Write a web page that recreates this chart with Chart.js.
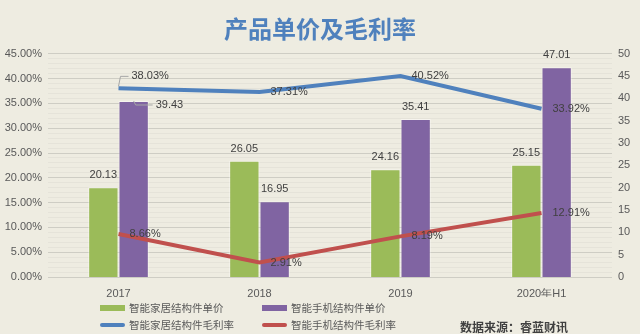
<!DOCTYPE html>
<html>
<head>
<meta charset="utf-8">
<script src="https://cdn.jsdelivr.net/npm/chart.js@4"></script>
<style>
  html, body { margin: 0; padding: 0; background: #eeece1; }
  #wrap { position: relative; width: 640px; height: 334px; }
  #legend {
    position: absolute; left: 100px; top: 299px;
    display: grid; grid-template-columns: 162px 162px; grid-auto-rows: 17px;
    font: 10.5px "Noto Sans CJK SC", sans-serif; color: #595959;
  }
  #legend .item { display: flex; align-items: center; }
  #legend .swatch { width: 25px; margin-right: 4px; }
  #source {
    position: absolute; left: 460px; top: 318px; line-height: 18px;
    font: bold 12px "Noto Sans CJK SC", sans-serif; color: #404040;
  }
</style>
</head>
<body>
<div id="wrap">
  <canvas id="myChart" width="640" height="334"></canvas>
  <div id="legend"></div>
  <div id="source">数据来源：睿蓝财讯</div>
</div>
<script>
const years = ['2017', '2018', '2019', '2020年H1'];
const homePrice = [20.13, 26.05, 24.16, 25.15];   // 智能家居结构件单价
const phonePrice = [39.43, 16.95, 35.41, 47.01];  // 智能手机结构件单价
const homeMargin = [38.03, 37.31, 40.52, 33.92];  // 智能家居结构件毛利率 (%)
const phoneMargin = [8.66, 2.91, 8.19, 12.91];    // 智能手机结构件毛利率 (%)
const marginAxis = [0, 45, 5];  // min, max, step (%)
const priceAxis = [0, 50, 5];

const green = '#9bbb59', purple = '#8064a2', blue = '#4f81bd', red = '#c0504d';

// labels that sit off their mark, with a leader line: dataset -> index -> [dx, dy]
const callouts = { 1: { 0: [22, 4] }, 2: { 0: [13, -12] } };

const valueLabels = {
  id: 'valueLabels',
  afterDatasetsDraw(chart) {
    const ctx = chart.ctx;
    ctx.save();
    ctx.font = '11px "Liberation Sans", sans-serif';
    ctx.fillStyle = '#404040';
    ctx.textBaseline = 'middle';
    chart.data.datasets.forEach((ds, i) => {
      const meta = chart.getDatasetMeta(i);
      meta.data.forEach((el, j) => {
        const isLine = ds.type === 'line';
        const text = ds.data[j].toFixed(2) + (isLine ? '%' : '');
        const c = callouts[i] && callouts[i][j];
        if (c) {
          ctx.strokeStyle = '#a6a6a6';
          ctx.lineWidth = 1;
          ctx.beginPath();
          ctx.moveTo(el.x, el.y - (isLine ? 2 : 0));
          ctx.lineTo(el.x + 2, el.y + c[1]);
          ctx.lineTo(el.x + c[0] - 3, el.y + c[1]);
          ctx.stroke();
          ctx.textAlign = 'left';
          ctx.fillText(text, el.x + c[0], el.y + c[1]);
        } else if (isLine) {
          ctx.textAlign = 'left';
          ctx.fillText(text, el.x + 11, el.y);
        } else {
          ctx.textAlign = 'center';
          ctx.fillText(text, el.x, el.y - 12);
        }
      });
    });
    ctx.restore();
  }
};

const tickFont = { family: '"Liberation Sans", sans-serif', size: 11 };

const chart = new Chart(document.getElementById('myChart'), {
  data: {
    labels: years,
    datasets: [
      { type: 'bar', label: '智能家居结构件单价', data: homePrice, yAxisID: 'yPrice',
        backgroundColor: green, borderColor: 'rgba(255,255,255,0.45)', borderWidth: 1, order: 2 },
      { type: 'bar', label: '智能手机结构件单价', data: phonePrice, yAxisID: 'yPrice',
        backgroundColor: purple, borderColor: 'rgba(255,255,255,0.45)', borderWidth: 1, order: 2 },
      { type: 'line', label: '智能家居结构件毛利率', data: homeMargin, yAxisID: 'yMargin',
        borderColor: blue, backgroundColor: blue, borderWidth: 4, pointRadius: 0, tension: 0, order: 1 },
      { type: 'line', label: '智能手机结构件毛利率', data: phoneMargin, yAxisID: 'yMargin',
        borderColor: red, backgroundColor: red, borderWidth: 4, pointRadius: 0, tension: 0, order: 1 }
    ]
  },
  options: {
    responsive: false,
    animation: false,
    layout: { padding: { left: 0, right: 0, top: 0, bottom: 37 } },
    datasets: { bar: { categoryPercentage: 0.43, barPercentage: 1.0 } },
    plugins: {
      legend: { display: false },
      tooltip: { enabled: false },
      title: {
        display: true,
        text: '产品单价及毛利率',
        color: blue,
        font: { family: '"Noto Sans CJK SC", sans-serif', size: 24, weight: 'bold' },
        padding: { top: 14, bottom: 11 }
      }
    },
    scales: {
      x: {
        grid: { display: false },
        border: { display: false },
        ticks: { color: '#595959', font: tickFont, padding: 2, maxRotation: 0 },
        afterFit: s => { s.height = 20; }
      },
      yMargin: {
        position: 'left',
        min: marginAxis[0], max: marginAxis[1],
        ticks: { stepSize: marginAxis[2], color: '#595959', font: tickFont, padding: 6,
                 callback: v => v.toFixed(2) + '%' },
        grid: { color: '#d6d5cc', drawTicks: false },
        border: { display: false },
        afterFit: s => { s.width = 48; }
      },
      // faint 1% rules between the major gridlines
      yMinor: {
        position: 'left',
        min: marginAxis[0], max: marginAxis[1], z: -1,
        ticks: { display: false, stepSize: 1, maxTicksLimit: 60 },
        grid: { color: 'rgba(0,0,0,0.035)', drawTicks: false },
        border: { display: false },
        afterFit: s => { s.width = 0; }
      },
      yPrice: {
        position: 'right',
        min: priceAxis[0], max: priceAxis[1],
        ticks: { stepSize: priceAxis[2], color: '#595959', font: tickFont, padding: 6 },
        grid: { display: false, drawTicks: false },
        border: { display: false },
        afterFit: s => { s.width = 28; }
      }
    }
  },
  plugins: [valueLabels]
});

// two-row legend under the axis
const legend = document.getElementById('legend');
chart.data.datasets.forEach(ds => {
  const item = document.createElement('div');
  item.className = 'item';
  const sw = document.createElement('span');
  sw.className = 'swatch';
  if (ds.type === 'line') {
    sw.style.height = '4px';
    sw.style.borderRadius = '2px';
  } else {
    sw.style.height = '6px';
  }
  sw.style.background = ds.backgroundColor;
  item.appendChild(sw);
  item.appendChild(document.createTextNode(ds.label));
  legend.appendChild(item);
});
</script>
</body>
</html>
